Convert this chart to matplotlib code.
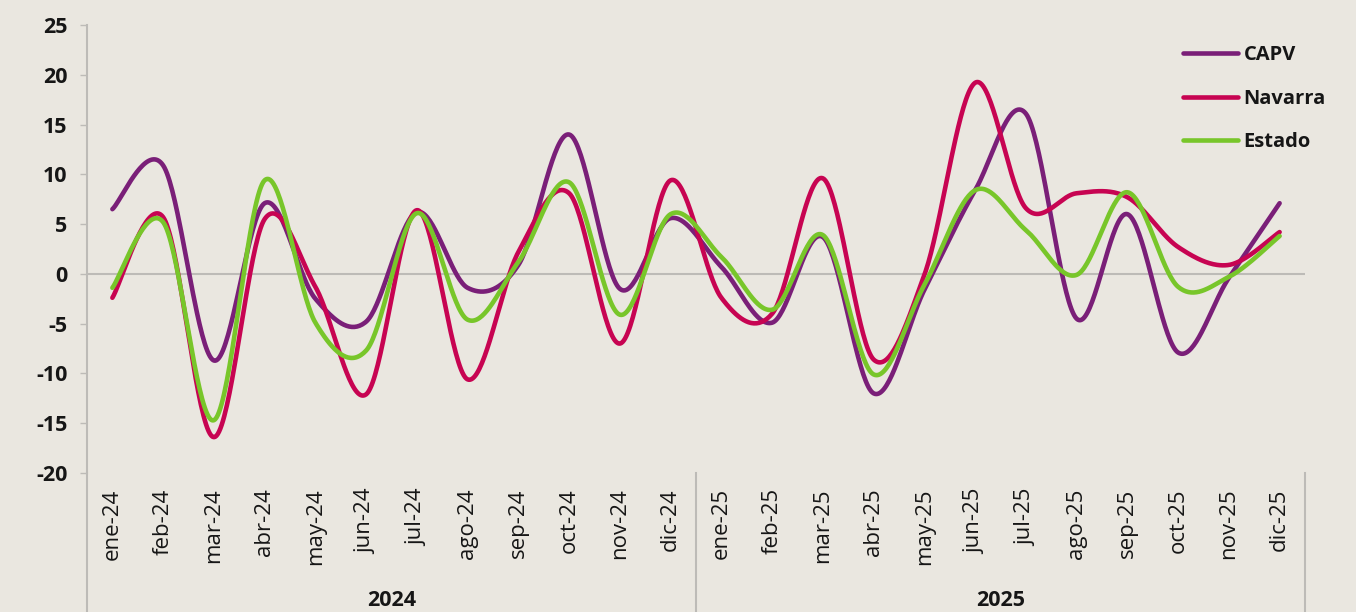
import numpy as np
import matplotlib
matplotlib.use('Agg')
import matplotlib.pyplot as plt

months = ["ene-24", "feb-24", "mar-24", "abr-24", "may-24", "jun-24", "jul-24", "ago-24",
          "sep-24", "oct-24", "nov-24", "dic-24", "ene-25", "feb-25", "mar-25", "abr-25",
          "may-25", "jun-25", "jul-25", "ago-25", "sep-25", "oct-25", "nov-25", "dic-25"]
years = ["2024", "2025"]

capv = [6.5, 10.9, -8.7, 7.1, -2.5, -4.8, 6.2, -1.4, 0.9, 14.0, -1.5, 5.6,
        0.7, -4.9, 3.7, -12.0, -1.6, 8.4, 16.1, -4.5, 6.0, -7.9, -0.4, 7.1]
navarra = [-2.4, 5.7, -16.4, 5.5, -1.3, -12.1, 6.4, -10.6, 2.2, 8.1, -7.0, 9.4,
           -2.4, -4.0, 9.6, -8.6, -0.1, 19.2, 6.6, 8.1, 7.7, 2.7, 0.9, 4.2]
estado = [-1.4, 5.2, -14.7, 9.4, -4.9, -7.7, 6.1, -4.6, 1.2, 9.2, -4.1, 6.0,
          1.7, -3.6, 3.9, -10.1, -1.1, 8.4, 4.4, -0.1, 8.2, -1.3, -0.3, 3.8]

series = [("CAPV", capv, "#7A1F78"), ("Navarra", navarra, "#C70452"), ("Estado", estado, "#78C62A")]


def smooth(y, n=40):
    x = np.arange(len(y), dtype=float)
    pts = np.column_stack([x, np.asarray(y, dtype=float)])
    P = np.vstack([pts[0], pts, pts[-1]])
    out = []
    t = np.linspace(0, 1, n)[:, None]
    for i in range(len(pts) - 1):
        p0, p1, p2, p3 = P[i], P[i + 1], P[i + 2], P[i + 3]
        c1 = p1 + (p2 - p0) / 6.0
        c2 = p2 - (p3 - p1) / 6.0
        b = (1 - t) ** 3 * p1 + 3 * (1 - t) ** 2 * t * c1 + 3 * (1 - t) * t ** 2 * c2 + t ** 3 * p2
        out.append(b if i == 0 else b[1:])
    o = np.vstack(out)
    return o[:, 0], o[:, 1]


W, H = 1356, 612
bg = "#EAE7E0"
txt = "#161616"
fig = plt.figure(figsize=(W / 100, H / 100), dpi=100, facecolor=bg)
left, right, top, bottom = 87, 1305, 25, 473
ax = fig.add_axes([left / W, 1 - bottom / H, (right - left) / W, (bottom - top) / H])
ax.set_facecolor(bg)
units_per_px = 45.0 / (bottom - top)

gray = "#BDBBB7"
ax.axhline(0, color=gray, lw=1.5, zorder=1)

for name, vals, col in series:
    xs, ys = smooth(vals)
    ax.plot(xs, ys, color=col, lw=3.3, label=name, solid_capstyle='round', zorder=3)

ax.set_xlim(-0.5, len(months) - 0.5)
ax.set_ylim(-20, 25)
ax.set_yticks(range(-20, 26, 5))
ax.set_yticklabels([str(v) for v in range(-20, 26, 5)], fontsize=15.5, fontweight='bold',
                   family='Open Sans', color=txt)
ax.tick_params(axis='y', length=5, width=1, color=gray, pad=9)
ax.set_xticks(range(len(months)))
ax.set_xticklabels(months, rotation=90, fontsize=16, family='Open Sans', color=txt)
ax.tick_params(axis='x', length=0, pad=11)

for s in ['top', 'right', 'bottom']:
    ax.spines[s].set_visible(False)
ax.spines['left'].set_color(gray)
ax.spines['left'].set_linewidth(1.5)

# group separators below axis
for xv in [-0.5, 11.5, 23.5]:
    ax.plot([xv, xv], [-20, -20 - (H - bottom) * units_per_px], color=gray, lw=1.5,
            clip_on=False, zorder=1)

for i, yr in enumerate(years):
    ax.text(5.5 + 12 * i, -20 - (600 - bottom) * units_per_px, yr, ha='center', va='center',
            fontsize=15.5, fontweight='bold', family='Open Sans', color=txt, clip_on=False)

leg = ax.legend(loc='upper left', bbox_to_anchor=((1165 - left) / (right - left), 1 - (27 - top) / (bottom - top)),
                frameon=False, handlelength=2.7, handletextpad=0.3, labelspacing=1.17,
                prop={'family': 'Open Sans', 'weight': 'bold', 'size': 14.5})
for t in leg.get_texts():
    t.set_color(txt)

fig.savefig("out.png", dpi=100, facecolor=bg)
